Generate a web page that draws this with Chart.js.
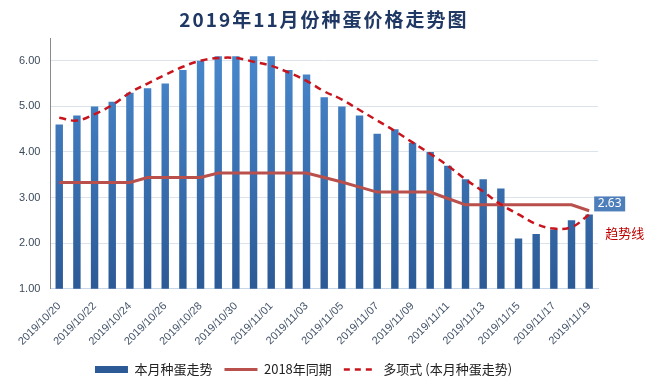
<!DOCTYPE html>
<html>
<head>
<meta charset="utf-8">
<script src="https://cdn.jsdelivr.net/npm/chart.js@4.4.1/dist/chart.umd.min.js"></script>
<style>
  body { margin: 0; background: #fff; }
  #wrap { position: relative; width: 648px; height: 391px; }
  #titulo {
    position: absolute; left: 0; top: 5px; width: 648px; text-align: center;
    font: bold 19px "Noto Sans CJK SC", sans-serif; color: #1f3864; letter-spacing: 2px;
  }
</style>
</head>
<body>
<div id="wrap">
  <div id="titulo">2019年11月份种蛋价格走势图</div>
  <canvas id="grafico" width="648" height="391"></canvas>
</div>
<script>
// Fechas (31 días)
const fechas = [
  '2019/10/20','2019/10/21','2019/10/22','2019/10/23','2019/10/24','2019/10/25','2019/10/26',
  '2019/10/27','2019/10/28','2019/10/29','2019/10/30','2019/10/31','2019/11/01','2019/11/02',
  '2019/11/03','2019/11/04','2019/11/05','2019/11/06','2019/11/07','2019/11/08','2019/11/09',
  '2019/11/10','2019/11/11','2019/11/12','2019/11/13','2019/11/14','2019/11/15','2019/11/16',
  '2019/11/17','2019/11/18','2019/11/19'
];
// Precio de este mes
const precioMes = [4.6, 4.8, 5.0, 5.1, 5.3, 5.4, 5.5, 5.8, 6.0, 6.1, 6.1, 6.1, 6.1, 5.8, 5.7, 5.2,
  5.0, 4.8, 4.4, 4.5, 4.2, 4.0, 3.7, 3.4, 3.4, 3.2, 2.1, 2.2, 2.3, 2.5, 2.63];
// Mismo periodo de 2018
const precio2018 = [3.33, 3.33, 3.33, 3.33, 3.33, 3.44, 3.44, 3.44, 3.44, 3.54, 3.54, 3.54, 3.54, 3.54, 3.54,
  3.44, 3.34, 3.23, 3.12, 3.12, 3.12, 3.12, 2.98, 2.84, 2.84, 2.84, 2.84, 2.84, 2.84, 2.84, 2.71];
// Línea de tendencia polinómica
const tendencia = [4.75, 4.69, 4.83, 5.03, 5.3, 5.5, 5.69, 5.87, 6.0, 6.06, 6.06, 5.98, 5.89, 5.74, 5.56,
  5.33, 5.15, 4.92, 4.69, 4.46, 4.21, 3.96, 3.7, 3.4, 3.13, 2.85, 2.63, 2.42, 2.32, 2.35, 2.63];
const valoresY = [1, 2, 3, 4, 5, 6];

// Etiqueta del último valor y texto "趋势线"
const etiquetaFinal = {
  id: 'etiquetaFinal',
  afterDatasetsDraw(chart) {
    const ctx = chart.ctx;
    const barras = chart.getDatasetMeta(0).data;
    const ultima = barras[barras.length - 1];
    const x = ultima.x, y = ultima.y;
    ctx.save();
    ctx.fillStyle = '#4f7fba';
    ctx.fillRect(x + 5, y - 18, 31, 15);
    ctx.fillStyle = '#ffffff';
    ctx.font = '12px "Noto Sans", sans-serif';
    ctx.textAlign = 'center';
    ctx.textBaseline = 'middle';
    ctx.fillText(precioMes[precioMes.length - 1].toFixed(2), x + 20.5, y - 10.5);
    ctx.fillStyle = '#c00000';
    ctx.font = '13px "Noto Sans CJK SC", sans-serif';
    ctx.textAlign = 'left';
    ctx.fillText('趋势线', x + 16, y + 19);
    ctx.restore();
  }
};

const ctx = document.getElementById('grafico').getContext('2d');
const grafico = new Chart(ctx, {
  type: 'bar',
  data: {
    labels: fechas,
    datasets: [{
      label: '本月种蛋走势',
      data: precioMes,
      backgroundColor: function(c) {
        const area = c.chart.chartArea;
        if (!area) return '#3c72b8';
        const g = c.chart.ctx.createLinearGradient(0, area.top, 0, area.bottom);
        g.addColorStop(0, '#4a8ad0');
        g.addColorStop(1, '#2c5a96');
        return g;
      },
      barPercentage: 0.42,
      categoryPercentage: 1,
      pointStyle: 'rect',
      order: 3
    }, {
      type: 'line',
      label: '2018年同期',
      data: precio2018,
      borderColor: '#b9504c',
      backgroundColor: '#b9504c',
      borderWidth: 3,
      pointRadius: 0,
      tension: 0,
      pointStyle: 'line',
      order: 2
    }, {
      type: 'line',
      label: '多项式 (本月种蛋走势)',
      data: tendencia,
      borderColor: '#c8141c',
      backgroundColor: '#c8141c',
      borderWidth: 2.5,
      borderDash: [7, 5],
      pointRadius: 0,
      tension: 0.4,
      pointStyle: 'line',
      order: 1
    }]
  },
  options: {
    responsive: false,
    animation: false,
    layout: { padding: { top: 38, right: 50, left: 9, bottom: 5 } },
    plugins: {
      title: { display: false },
      tooltip: { enabled: false },
      legend: {
        position: 'bottom',
        labels: {
          usePointStyle: true,
          pointStyleWidth: 33,
          boxHeight: 7,
          padding: 12,
          color: '#222',
          font: { size: 13, family: '"Noto Sans CJK SC", sans-serif' },
          sort: function(a, b) { return a.datasetIndex - b.datasetIndex; },
          generateLabels: function(chart) {
            const items = Chart.defaults.plugins.legend.labels.generateLabels(chart);
            items.forEach(function(it) {
              const ds = chart.data.datasets[it.datasetIndex];
              if (ds.borderDash) { it.lineDash = [6, 5]; }
            });
            return items;
          }
        }
      }
    },
    scales: {
      x: {
        grid: { display: false },
        border: { color: '#c9d6e8', width: 1 },
        ticks: {
          autoSkip: false,
          maxRotation: 45,
          minRotation: 45,
          color: '#44546a',
          font: { size: 11, family: '"Liberation Sans", sans-serif' },
          callback: function(v, i) { return i % 2 === 0 ? fechas[i] : ''; }
        }
      },
      y: {
        min: valoresY[0],
        max: 6.5,
        ticks: {
          stepSize: 1,
          includeBounds: false,
          padding: 10,
          color: '#3c4a5c',
          font: { size: 11, family: '"Liberation Sans", sans-serif' },
          callback: function(v) { return v.toFixed(2); }
        },
        grid: { color: '#dde3ea', drawTicks: false },
        border: { color: '#8a8a8a', width: 1 }
      }
    }
  },
  plugins: [etiquetaFinal]
});
</script>
</body>
</html>
